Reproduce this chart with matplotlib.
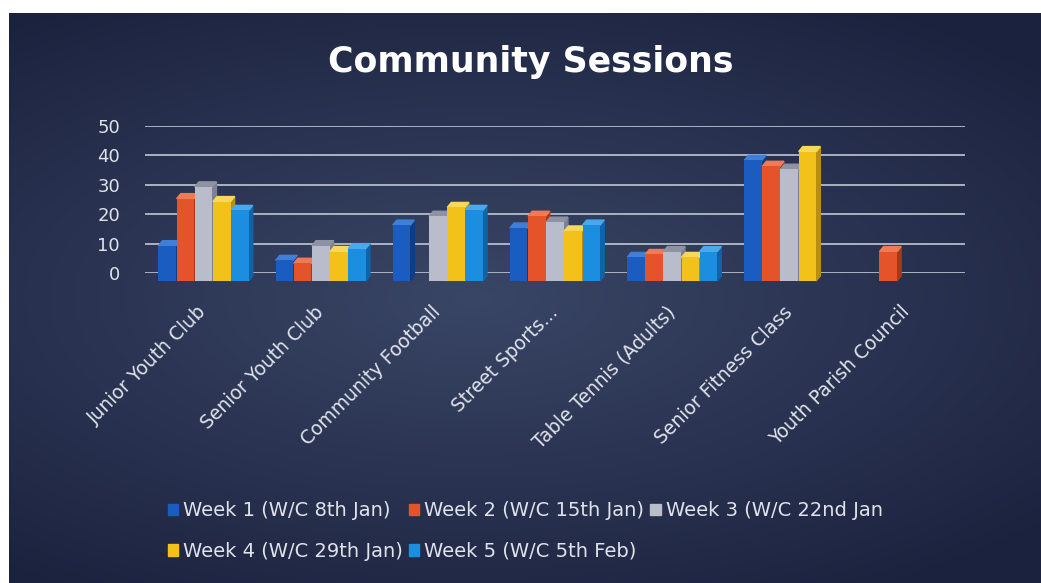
import numpy as np
import matplotlib.pyplot as plt
from matplotlib.patches import Patch, Polygon

# Data
categories = ["Junior Youth Club", "Senior Youth Club", "Community Football",
              "Street Sports...", "Table Tennis (Adults)", "Senior Fitness Class",
              "Youth Parish Council"]
week_labels = ["Week 1 (W/C 8th Jan)", "Week 2 (W/C 15th Jan)", "Week 3 (W/C 22nd Jan",
               "Week 4 (W/C 29th Jan)", "Week 5 (W/C 5th Feb)"]
week1 = [12, 7, 19, 18, 8, 41, 0]
week2 = [28, 6, 0, 22, 9, 39, 10]
week3 = [32, 12, 22, 20, 10, 38, 0]
week4 = [27, 10, 25, 17, 8, 44, 0]
week5 = [24, 11, 24, 19, 10, 0, 0]
y_ticks = [0, 10, 20, 30, 40, 50]

series = [week1, week2, week3, week4, week5]
colors = ["#1a5cc0", "#e4532a", "#b8bccb", "#f2c21a", "#1b8ee0"]
side_colors = ["#0f3d85", "#a8381a", "#7d8190", "#b88f10", "#0f64a8"]
top_colors = ["#3f7fd8", "#f07a55", "#8e93a3", "#f8d85a", "#4aa8ec"]

plt.rcParams["font.family"] = ["DejaVu Sans"]
text_col = "#dfe3ec"

W, H = 1041, 583
fig = plt.figure(figsize=(W / 100, H / 100), dpi=100, facecolor="white")

# Dark background panel with a soft lighter centre
bg = fig.add_axes([9 / W, 0, 1 - 9 / W, 1 - 13 / H], zorder=-5)
yy, xx = np.mgrid[-1:1:300j, -1:1:500j]
r = np.sqrt(((xx + 0.1) * 0.9) ** 2 + (yy * 1.1) ** 2)
shade = np.clip(1 - r / 1.35, 0, 1)
c_out = np.array([0x1b, 0x22, 0x3e]) / 255
c_in = np.array([0x3a, 0x46, 0x66]) / 255
img = c_out[None, None, :] + (c_in - c_out)[None, None, :] * shade[..., None]
bg.imshow(img, aspect="auto", extent=[0, 1, 0, 1])
bg.set_axis_off()

ax = fig.add_axes([145 / W, (H - 273) / H, 820 / W, 147 / H])
ax.set_facecolor("none")
x = np.arange(len(categories))
w = 0.155
base = -2.7           # front face sits in front of the back wall
dx, dy = 0.035, 1.7   # depth of the pseudo 3D faces

for i, vals in enumerate(series):
    xs = x + (i - 2) * w
    for xc, v in zip(xs, vals):
        if v <= 0:
            continue
        top = base + v
        l, rgt = xc - 0.075, xc + 0.075
        z = 3 + i * 0.1
        ax.add_patch(Polygon([(rgt, base), (rgt + dx, base + dy), (rgt + dx, top + dy), (rgt, top)],
                             closed=True, color=side_colors[i], zorder=z, clip_on=False))
        ax.add_patch(Polygon([(l, top), (l + dx, top + dy), (rgt + dx, top + dy), (rgt, top)],
                             closed=True, color=top_colors[i], zorder=z, clip_on=False))
    heights = [v if v > 0 else 0 for v in vals]
    bars = ax.bar(xs, heights, width=0.15, bottom=base, color=colors[i], zorder=3.05 + i * 0.1)
    for b in bars:
        b.set_clip_on(False)
        if b.get_height() == 0:
            b.set_visible(False)

ax.set_xlim(-0.5, len(categories) - 0.5)
ax.set_ylim(0, 50)
ax.set_yticks(y_ticks)
ax.grid(axis="y", color="#b4bccb", linewidth=1.3, zorder=0)
for s in ax.spines.values():
    s.set_visible(False)
ax.tick_params(axis="y", length=0, pad=18, labelsize=13, labelcolor=text_col)
ax.set_xticks(x)
ax.set_xticklabels(categories, rotation=45, ha="right", va="center", rotation_mode="anchor")
ax.tick_params(axis="x", length=0, pad=26, labelsize=13.5, labelcolor=text_col)

fig.text(0.510, 0.894, "Community Sessions", ha="center", va="center",
         fontsize=25, fontweight="bold", color="white")

handles = [Patch(color=c) for c in colors]
order = [0, 3, 1, 4, 2]
fig.legend([handles[k] for k in order], [week_labels[k] for k in order],
           ncol=3, loc="center left", bbox_to_anchor=(150 / W, (H - 531) / H),
           frameon=False, fontsize=14, labelcolor=text_col,
           handlelength=0.55, handleheight=0.55, handletextpad=0.25,
           columnspacing=0.3, labelspacing=1.1)

fig.savefig("out.png", dpi=100, facecolor=fig.get_facecolor())
